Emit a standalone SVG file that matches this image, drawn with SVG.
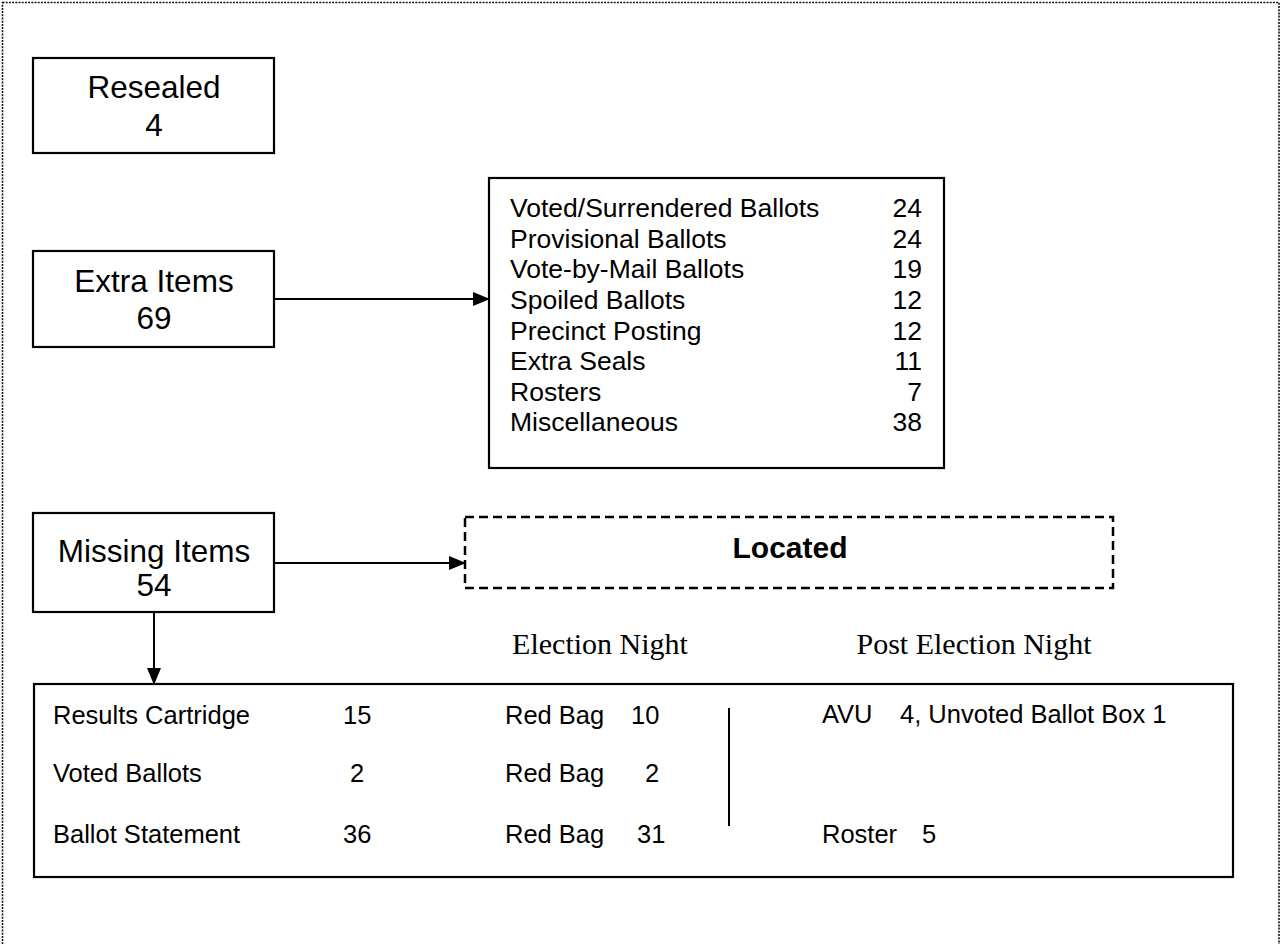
<svg xmlns="http://www.w3.org/2000/svg" width="1282" height="944" viewBox="0 0 1282 944">
<defs>
<style>
.box{fill:#fff;stroke:#000;stroke-width:2.2}
.dash{fill:none;stroke:#000;stroke-width:2.5;stroke-dasharray:9 5}
.lbl{font-family:"Liberation Sans",Arial,sans-serif;font-size:31.5px;fill:#000;text-anchor:middle}
.t{font-family:"Liberation Sans",Arial,sans-serif;font-size:25.5px;fill:#000}
.lst{font-family:"Liberation Sans",Arial,sans-serif;font-size:26.5px;fill:#000}
.num{text-anchor:end}
.serif{font-family:"Liberation Serif","Times New Roman",serif;font-size:30px;fill:#000;text-anchor:middle}
.conn{stroke:#000;stroke-width:2;fill:none}
</style>
<marker id="ah" markerWidth="17" markerHeight="14" refX="16" refY="7" orient="auto" markerUnits="userSpaceOnUse">
<path d="M0,0 L17,7 L0,14 Z" fill="#000"/>
</marker>
</defs>
<rect x="0" y="0" width="1282" height="944" fill="#fff"/>
<rect x="2.5" y="2.5" width="1276.5" height="980" fill="none" stroke="#111" stroke-width="1.6" stroke-dasharray="2 1.2"/>

<g id="resealed">
<rect class="box" x="33" y="58" width="241" height="95"/>
<text class="lbl" x="154" y="98">Resealed</text>
<text class="lbl" x="154" y="136">4</text>
</g>

<g id="extra-items">
<rect class="box" x="33" y="251" width="241" height="96"/>
<text class="lbl" x="154" y="292">Extra Items</text>
<text class="lbl" x="154" y="329">69</text>
</g>

<g id="extra-list">
<rect class="box" x="489" y="178" width="455" height="290"/>
<g class="lst">
<text x="510" y="217">Voted/Surrendered Ballots</text>
<text x="510" y="248">Provisional Ballots</text>
<text x="510" y="278">Vote-by-Mail Ballots</text>
<text x="510" y="309">Spoiled Ballots</text>
<text x="510" y="340">Precinct Posting</text>
<text x="510" y="370">Extra Seals</text>
<text x="510" y="401">Rosters</text>
<text x="510" y="431">Miscellaneous</text>
<text class="num" x="922" y="217">24</text>
<text class="num" x="922" y="248">24</text>
<text class="num" x="922" y="278">19</text>
<text class="num" x="922" y="309">12</text>
<text class="num" x="922" y="340">12</text>
<text class="num" x="922" y="370">11</text>
<text class="num" x="922" y="401">7</text>
<text class="num" x="922" y="431">38</text>
</g>
</g>

<g id="missing-items">
<rect class="box" x="33" y="513" width="241" height="99"/>
<text class="lbl" x="154" y="562">Missing Items</text>
<text class="lbl" x="154" y="596">54</text>
</g>

<g id="located">
<rect class="dash" x="465" y="517" width="648" height="71"/>
<text x="790" y="558" font-family="Liberation Sans, Arial, sans-serif" font-size="30" font-weight="bold" text-anchor="middle">Located</text>
</g>

<g id="column-headers">
<text class="serif" x="600" y="654">Election Night</text>
<text class="serif" x="974" y="654">Post Election Night</text>
</g>

<g id="missing-detail">
<rect class="box" x="34" y="684" width="1199" height="193"/>
<line x1="729" y1="708" x2="729" y2="826" stroke="#000" stroke-width="2"/>
<g class="t">
<text x="53" y="724">Results Cartridge</text>
<text x="53" y="782">Voted Ballots</text>
<text x="53" y="843">Ballot Statement</text>
<text x="343" y="724">15</text>
<text x="350" y="782">2</text>
<text x="343" y="843">36</text>
<text x="505" y="724">Red Bag</text>
<text x="631" y="724">10</text>
<text x="505" y="782">Red Bag</text>
<text x="645" y="782">2</text>
<text x="505" y="843">Red Bag</text>
<text x="637" y="843">31</text>
<text x="822" y="723">AVU</text>
<text x="900" y="723">4, Unvoted Ballot Box 1</text>
<text x="822" y="843">Roster</text>
<text x="922" y="843">5</text>
</g>
</g>

<g id="connectors">
<line class="conn" x1="274" y1="299" x2="489" y2="299" marker-end="url(#ah)"/>
<line class="conn" x1="274" y1="563" x2="465" y2="563" marker-end="url(#ah)"/>
<line class="conn" x1="154" y1="612" x2="154" y2="684" marker-end="url(#ah)"/>
</g>
</svg>
